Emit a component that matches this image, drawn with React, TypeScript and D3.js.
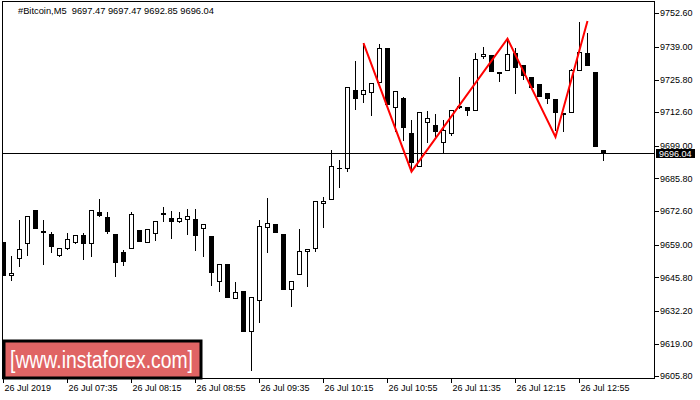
import React from "react";
import * as d3 from "d3";

const TITLE = "#Bitcoin,M5\u00A0\u00A09697.47 9697.47 9692.85 9696.04";
const OPEN = [9660.1,9646.5,9653.8,9659.6,9673.1,9664.6,9663.4,9654.6,9657.6,9659.8,9663.0,9659.6,9672.3,9670.2,9663.4,9656.2,9657.6,9665.0,9660.2,9663.6,9671.8,9669.7,9668.5,9669.3,9669.3,9665.7,9662.7,9644.2,9651.2,9637.4,9640.3,9623.9,9636.5,9666.1,9667.4,9663.4,9641.0,9647.1,9656.4,9657.6,9675.8,9677.6,9690.2,9689.9,9721.5,9719.8,9720.7,9724.7,9738.5,9714.6,9718.2,9704.1,9690.9,9708.5,9707.4,9700.4,9704.1,9715.1,9714.6,9713.5,9735.2,9735.7,9728.7,9729.6,9736.4,9731.7,9726.7,9724.0,9720.4,9717.8,9712.2,9712.6,9729.4,9736.7,9729.0,9697.47];
const HIGH = [9660.1,9654.5,9669.0,9670.6,9673.1,9669.0,9664.2,9657.6,9663.6,9662.8,9663.8,9673.1,9677.4,9672.1,9663.4,9656.9,9672.1,9665.0,9665.3,9668.5,9674.2,9672.7,9672.1,9673.5,9673.5,9667.4,9662.7,9651.1,9651.2,9644.0,9640.3,9637.8,9669.0,9677.9,9667.4,9663.4,9644.2,9665.4,9657.3,9676.6,9678.2,9697.3,9693.3,9722.7,9733.3,9740.5,9724.3,9740.2,9738.5,9721.2,9718.6,9709.5,9712.8,9713.1,9711.9,9709.5,9713.5,9727.0,9714.6,9736.7,9738.9,9735.7,9728.7,9742.1,9738.5,9731.7,9726.7,9724.0,9720.4,9717.8,9712.2,9730.1,9749.2,9744.5,9729.0,9697.47];
const LOW = [9646.4,9644.5,9650.1,9654.5,9665.4,9650.8,9655.8,9654.2,9656.9,9659.2,9652.8,9654.2,9670.1,9663.4,9646.1,9650.5,9657.6,9660.2,9660.2,9660.6,9668.3,9661.5,9667.7,9663.0,9656.6,9653.9,9642.3,9640.0,9637.6,9637.4,9623.9,9608.1,9627.5,9655.8,9663.6,9640.8,9634.0,9647.1,9642.0,9656.2,9665.7,9677.6,9682.1,9688.6,9713.6,9716.2,9711.2,9724.7,9715.5,9704.7,9701.1,9689.2,9690.6,9700.3,9702.7,9696.0,9703.1,9713.8,9711.2,9713.5,9734.0,9729.0,9724.9,9729.6,9719.8,9725.6,9722.5,9718.9,9715.8,9705.0,9704.7,9712.6,9729.4,9731.4,9698.7,9692.85];
const CLOSE = [9646.5,9647.5,9657.3,9670.6,9665.4,9663.6,9658.2,9657.6,9661.2,9662.8,9659.2,9673.1,9670.8,9664.3,9651.8,9652.2,9671.4,9660.2,9665.3,9668.5,9670.9,9668.3,9669.7,9670.5,9662.7,9667.4,9647.7,9651.1,9637.6,9639.8,9623.9,9637.8,9666.6,9667.7,9663.6,9640.8,9644.2,9656.4,9657.3,9676.6,9676.6,9690.9,9689.8,9722.7,9717.8,9721.5,9724.3,9738.5,9715.5,9721.2,9706.1,9692.2,9712.8,9710.1,9704.7,9705.4,9713.5,9714.2,9713.2,9734.0,9736.1,9729.0,9728.2,9736.1,9730.4,9727.4,9722.5,9718.9,9717.8,9712.2,9711.8,9729.7,9736.8,9731.4,9698.7,9696.04];

const Y_TICKS = [9752.6,9739.0,9725.8,9712.6,9699.0,9685.8,9672.6,9659.0,9645.8,9632.2,9619.0,9605.8];
const X_TICK_INDEX = [0,8,16,24,32,40,48,56,64,72];
const X_TICK_LABELS = ["26 Jul 2019","26 Jul 07:35","26 Jul 08:15","26 Jul 08:55","26 Jul 09:35","26 Jul 10:15","26 Jul 10:55","26 Jul 11:35","26 Jul 12:15","26 Jul 12:55"];
const PATTERN_INDEX = [45,51,63,69,73];
const PATTERN_PRICE = [9740.5,9688.6,9742.3,9702.6,9749.5];
const LAST_PRICE = 9696.04;
const WATERMARK = "[www.instaforex.com]";

const FONT = "'Liberation Sans', Arial, sans-serif";

export default function App() {
  const left = 2, top = 1, right = 655, bottom = 378.5;
  const x = d3.scaleLinear().domain([0, 75]).range([3.5, 603.5]);
  const y = d3.scaleLinear().domain([9605.8, 9752.6]).range([376.3, 13.3]);
  const line = d3.line<number>().x((_, i) => x(PATTERN_INDEX[i])).y((d) => y(d));
  const lastY = Math.round(y(LAST_PRICE)) + 0.5;

  return (
    <svg width={700} height={400} style={{ position: "absolute", left: 0, top: 0, background: "#fff" }}>
      <defs>
        <clipPath id="plot">
          <rect x={left} y={top} width={right - left} height={bottom - top} />
        </clipPath>
      </defs>
      <rect x={0} y={0} width={700} height={400} fill="#fff" />
      <g clipPath="url(#plot)" shapeRendering="crispEdges">
        {OPEN.map((o, i) => {
          const c = CLOSE[i];
          const cx = x(i);
          const bull = c > o;
          const yTop = y(Math.max(o, c));
          const yBot = y(Math.min(o, c));
          return (
            <g key={i}>
              <line x1={cx} x2={cx} y1={y(HIGH[i])} y2={y(LOW[i])} stroke="#000" strokeWidth={1} />
              {bull ? (
                <rect x={cx - 2} y={Math.round(yTop) + 0.5} width={4} height={Math.max(1, Math.round(yBot - yTop))} fill="#fff" stroke="#000" strokeWidth={1} />
              ) : (
                <rect x={cx - 2.5} y={yTop} width={5} height={Math.max(1.5, yBot - yTop)} fill="#000" />
              )}
            </g>
          );
        })}
        <line x1={left} x2={right} y1={lastY} y2={lastY} stroke="#000" strokeWidth={1} />
      </g>
      <path d={line(PATTERN_PRICE) || ""} fill="none" stroke="#ff0000" strokeWidth={2} />
      <rect x={left + 0.5} y={top + 0.5} width={right - left - 1} height={bottom - top - 0.5} fill="none" stroke="#000" strokeWidth={1} shapeRendering="crispEdges" />
      {Y_TICKS.map((t) => (
        <g key={t}>
          <line x1={right} x2={right + 4} y1={Math.round(y(t)) + 0.5} y2={Math.round(y(t)) + 0.5} stroke="#000" shapeRendering="crispEdges" />
          <text x={660} y={y(t)} dy="0.35em" fontFamily={FONT} fontSize={9} fill="#000">{t.toFixed(2)}</text>
        </g>
      ))}
      <rect x={656} y={lastY - 4.5} width={39} height={9} fill="#000" />
      <text x={659} y={lastY} dy="0.36em" fontFamily={FONT} fontSize={9} fill="#fff">{LAST_PRICE.toFixed(2)}</text>
      {X_TICK_INDEX.map((idx, k) => {
        const tx = Math.round(x(idx)) - 0.5;
        return (
          <g key={idx}>
            <line x1={tx} x2={tx} y1={bottom} y2={bottom + 4} stroke="#000" shapeRendering="crispEdges" />
            <text x={tx + 1} y={391} fontFamily={FONT} fontSize={9} fill="#000">{X_TICK_LABELS[k]}</text>
          </g>
        );
      })}
      <text x={18} y={14} fontFamily={FONT} fontSize={9.3} fill="#000">{TITLE}</text>
      <rect x={4} y={341} width={197} height={37} fill="#e06464" stroke="#000" strokeWidth={3} />
      <text x={10} y={368} fontFamily={FONT} fontSize={23} fill="#fff" textLength={183} lengthAdjust="spacingAndGlyphs">{WATERMARK}</text>
    </svg>
  );
}
